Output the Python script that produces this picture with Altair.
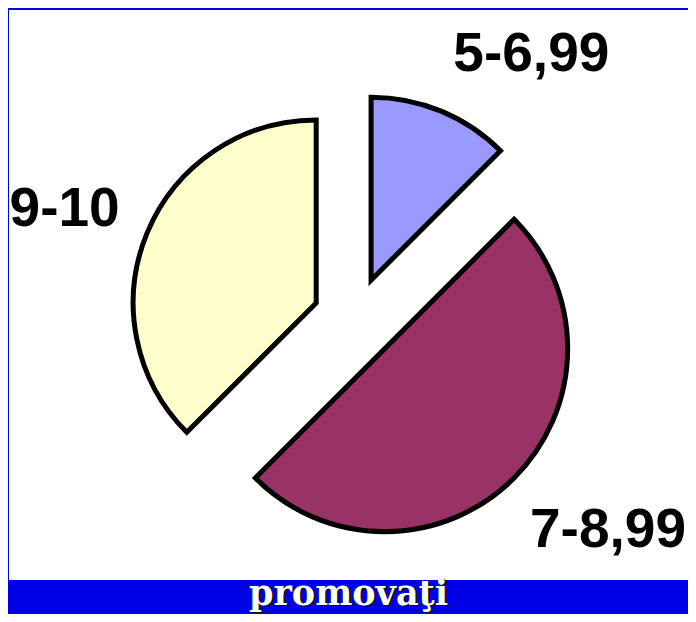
import altair as alt
import pandas as pd

# ---- data ----
categories = ["5-6,99", "7-8,99", "9-10"]
shares = [12.5, 50.0, 37.5]
slice_colors = ["#9999FF", "#993366", "#FFFFCC"]
caption = "promovaţi"

# ---- layout constants (pixels in the plot area) ----
CX, CY = 346, 309       # centre of the (un-exploded) pie
RADIUS = 183
EXPLODE = 42
LABEL_R = 258
CHAR_HALF = 13          # approx half advance of one label glyph
BOX_HALF_H = 30
CAP_HALF = 20
W, H = 679, 570

df = pd.DataFrame({"cat": categories, "value": shares, "order": list(range(len(categories)))})

base = (
    alt.Chart(df)
    .transform_window(cum="sum(value)", sort=[alt.SortField("order")], frame=[None, 0])
    .transform_joinaggregate(total="sum(value)")
    .transform_calculate(a0="2*PI*(datum.cum - datum.value)/datum.total")
    .transform_calculate(a1="2*PI*datum.cum/datum.total")
    .transform_calculate(mid="(datum.a0 + datum.a1)/2")
    .transform_calculate(
        px=f"{CX} + {EXPLODE}*sin(datum.mid)",
        py=f"{CY} - {EXPLODE}*cos(datum.mid)",
        hw=f"length(datum.cat)*{CHAR_HALF}",
    )
    .transform_calculate(
        lx_raw=f"{CX} + {LABEL_R}*sin(datum.mid) + datum.hw*clamp(2.6*sin(datum.mid), -1, 1)",
        ly=f"{CY} - {LABEL_R}*cos(datum.mid) + {BOX_HALF_H}*clamp(-1.2*cos(datum.mid), -1, 1) + {CAP_HALF}",
    )
    .transform_calculate(
        lx=f"clamp(datum.lx_raw, datum.hw + 2, {W} - datum.hw - 2)"
    )
)

pie = base.mark_arc(
    outerRadius=RADIUS, stroke="black", strokeWidth=5, strokeJoin="miter"
).encode(
    theta=alt.Theta("a0:Q", scale=None),
    theta2="a1:Q",
    x=alt.X("px:Q", scale=None, axis=None),
    y=alt.Y("py:Q", scale=None, axis=None),
    color=alt.Color("cat:N", scale=alt.Scale(domain=categories, range=slice_colors), legend=None),
)

labels = base.mark_text(
    font="Liberation Sans Narrow, Arial Narrow, Liberation Sans",
    fontWeight="bold", fontSize=55, align="center", baseline="alphabetic", color="black",
).encode(
    x=alt.X("lx:Q", scale=None, axis=None),
    y=alt.Y("ly:Q", scale=None, axis=None),
    text="cat:N",
)

cap_df = pd.DataFrame({"t": [caption]})
cap_shadow = alt.Chart(cap_df).mark_text(
    font="DejaVu Serif", fontWeight="bold", fontSize=35, align="center",
    baseline="alphabetic", color="#111111",
).encode(x=alt.value(W / 2 + 2), y=alt.value(H + 26), text="t:N")
cap_text = alt.Chart(cap_df).mark_text(
    font="DejaVu Serif", fontWeight="bold", fontSize=35, align="center",
    baseline="alphabetic", color="white",
).encode(x=alt.value(W / 2), y=alt.value(H + 25), text="t:N")

chart = (
    alt.layer(pie, labels, cap_shadow, cap_text)
    .properties(
        width=W, height=H,
        autosize=alt.AutoSizeParams(type="none"),
        padding={"left": 1, "top": 2, "right": 0, "bottom": 34},
        background="#0000E6",
    )
    .configure_view(fill="white", strokeWidth=0)
)

chart.save("out.html", embed_options={"renderer": "svg", "actions": False})
